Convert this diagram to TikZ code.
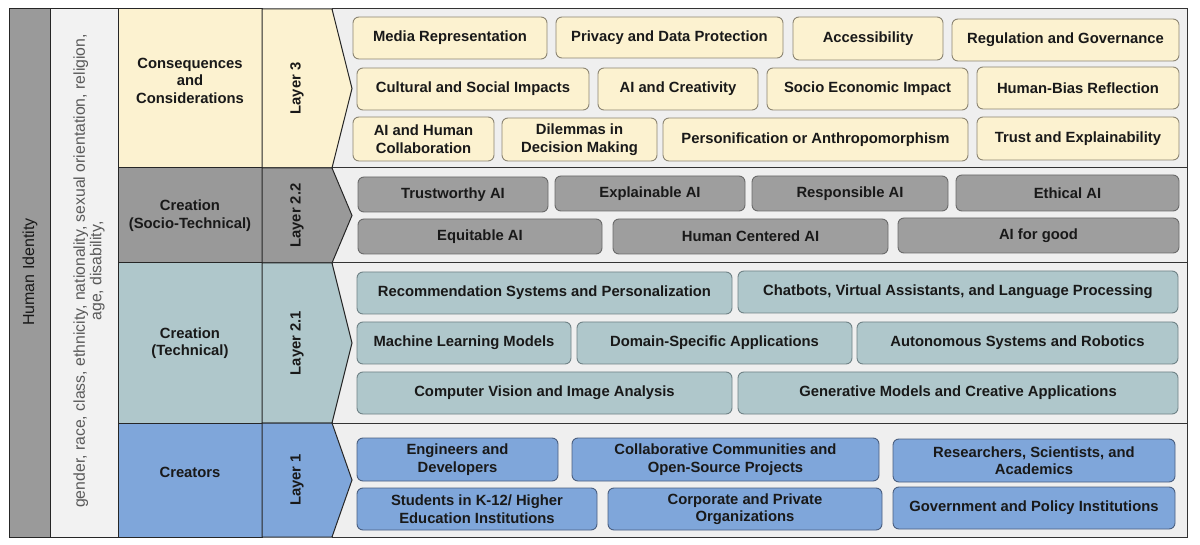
\documentclass[tikz,border=0pt]{standalone}
\usepackage{fontspec}
\setmainfont{Liberation Sans}
\definecolor{yel}{HTML}{FCF2D0}
\definecolor{yelb}{HTML}{8C8572}
\definecolor{gry}{HTML}{9E9E9E}
\definecolor{gryc}{HTML}{999999}
\definecolor{gryb}{HTML}{6A6A6A}
\definecolor{tea}{HTML}{AFC7CB}
\definecolor{teab}{HTML}{6F8286}
\definecolor{blu}{HTML}{7FA6DA}
\definecolor{blub}{HTML}{4A5F80}
\definecolor{pan}{HTML}{EFEFEF}
\definecolor{hid}{HTML}{9A9A9A}
\definecolor{coltwo}{HTML}{F2F2F2}
\newcommand\bx[7]{%
  \pgfmathsetmacro\myBW{#5-#3}\pgfmathsetmacro\myBH{#6-#4}%
  \node[#2, minimum width=\myBW pt, minimum height=\myBH pt] (#1) at ({(#3+#5)/2},{(#4+#6)/2}) {#7};}
\newcommand\layerrow[7]{%
  \pgfmathsetmacro\myMY{(#1+#2)/2}%
  \pgfmathsetmacro\myCY{(#1+#2)/2+#7}%
  \draw[panel] (332,#1) rectangle (1187,#2);
  \draw[cell, fill=#3] (118,#1) rectangle (262,#2);
  \draw[cell, fill=#3] (262,#1) -- (332,#1) -- (352,\myMY) -- (332,#2) -- (262,#2) -- cycle;
  \node[txt] (cat#4) at (190,\myCY) {#5};
  \node[txt, rotate=90] (lay#4) at (297,\myMY) {#6};}
\begin{document}
\begin{tikzpicture}[x=1pt,y=-1pt,
  txt/.style={font=\bfseries\fontsize{14.8}{17.5}\selectfont, text=black!90, align=center},
  bbase/.style={txt, rounded corners=6pt, line width=0.9pt, inner sep=0pt},
  ybox/.style={bbase, fill=yel, draw=yelb},
  gbox/.style={bbase, fill=gry, draw=gryb},
  tbox/.style={bbase, fill=tea, draw=teab},
  ubox/.style={bbase, fill=blu, draw=blub},
  panel/.style={fill=pan, draw=black!80, line width=1pt},
  cell/.style={draw=black!85, line width=1pt}]
\useasboundingbox[fill=white] (0,0) rectangle (1200,545);
% left columns
\draw[cell, fill=hid] (9,9) rectangle (50,537);
\draw[cell, fill=coltwo] (50,9) rectangle (118,537);
\node[rotate=90, font=\fontsize{16}{17}\selectfont, text=black!90] (hi) at (30,272) {Human Identity};
\node[rotate=90, font=\fontsize{15.8}{16.5}\selectfont, text=black!65, align=center] (attr) at (89,271)
  {gender, race, class, ethnicity, nationality, sexual orientation, religion,\\ age, disability,};
% rows
\layerrow{9}{168}{yel}{three}{Consequences\\and\\Considerations}{Layer 3}{-8}
\layerrow{168}{263}{gryc}{twotwo}{Creation\\(Socio-Technical)}{Layer 2.2}{0}
\layerrow{263}{423}{tea}{twoone}{Creation\\(Technical)}{Layer 2.1}{0}
\layerrow{423}{537}{blu}{one}{Creators}{Layer 1}{-8}
% Layer 3 boxes
\bx{a1}{ybox}{353}{17}{547}{59}{Media Representation}
\bx{a2}{ybox}{556}{17}{783}{58}{Privacy and Data Protection}
\bx{a3}{ybox}{793}{17}{943}{60}{Accessibility}
\bx{a4}{ybox}{952}{19}{1179}{61}{Regulation and Governance}
\bx{a5}{ybox}{357}{68}{589}{110}{Cultural and Social Impacts}
\bx{a6}{ybox}{598}{68}{758}{110}{AI and Creativity}
\bx{a7}{ybox}{767}{68}{968}{110}{Socio Economic Impact}
\bx{a8}{ybox}{977}{67}{1179}{109}{Human-Bias Reflection}
\bx{a9}{ybox}{353}{117}{494}{161}{AI and Human\\Collaboration}
\bx{a10}{ybox}{502}{118}{657}{161}{Dilemmas in\\Decision Making}
\bx{a11}{ybox}{663}{118}{968}{161}{Personification or Anthropomorphism}
\bx{a12}{ybox}{977}{117}{1179}{160}{Trust and Explainability}
% Layer 2.2 boxes
\bx{b1}{gbox}{358}{177}{548}{212}{Trustworthy AI}
\bx{b2}{gbox}{555}{176}{745}{211}{Explainable AI}
\bx{b3}{gbox}{752}{176}{948}{211}{Responsible AI}
\bx{b4}{gbox}{956}{175}{1179}{211}{Ethical AI}
\bx{b5}{gbox}{358}{219}{602}{254}{Equitable AI}
\bx{b6}{gbox}{613}{219}{888}{254}{Human Centered AI}
\bx{b7}{gbox}{898}{218}{1179}{253}{AI for good}
% Layer 2.1 boxes
\bx{c1}{tbox}{357}{272}{732}{314}{Recommendation Systems and Personalization}
\bx{c2}{tbox}{738}{271}{1178}{313}{Chatbots, Virtual Assistants, and Language Processing}
\bx{c3}{tbox}{357}{322}{571}{364}{Machine Learning Models}
\bx{c4}{tbox}{577}{322}{852}{364}{Domain-Specific Applications}
\bx{c5}{tbox}{857}{322}{1178}{364}{Autonomous Systems and Robotics}
\bx{c6}{tbox}{357}{372}{732}{414}{Computer Vision and Image Analysis}
\bx{c7}{tbox}{738}{372}{1178}{414}{Generative Models and Creative Applications}
% Layer 1 boxes
\bx{d1}{ubox}{357}{438}{558}{481}{Engineers and\\Developers}
\bx{d2}{ubox}{572}{438}{879}{481}{Collaborative Communities and\\Open-Source Projects}
\bx{d3}{ubox}{893}{439}{1175}{482}{Researchers, Scientists, and\\Academics}
\bx{d4}{ubox}{357}{488}{597}{530}{Students in K-12/ Higher\\Education Institutions}
\bx{d5}{ubox}{608}{488}{882}{530}{Corporate and Private\\Organizations}
\bx{d6}{ubox}{893}{487}{1175}{529}{Government and Policy Institutions}
\end{tikzpicture}
\end{document}
